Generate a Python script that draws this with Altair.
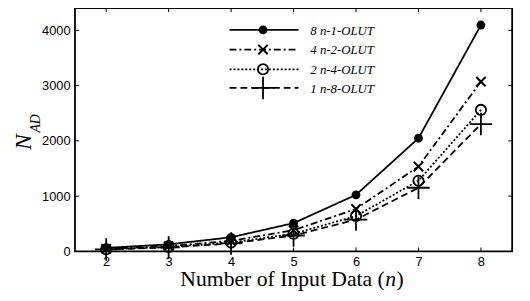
import altair as alt
import pandas as pd

n_values = [2, 3, 4, 5, 6, 7, 8]
series_names = ["8 n-1-OLUT", "4 n-2-OLUT", "2 n-4-OLUT", "1 n-8-OLUT"]
nad_8n1 = [64, 128, 256, 512, 1024, 2048, 4096]
nad_4n2 = [48, 96, 192, 384, 768, 1536, 3072]
nad_2n4 = [40, 80, 160, 320, 640, 1280, 2560]
nad_1n8 = [36, 72, 144, 288, 576, 1152, 2304]
x_ticks = [2, 3, 4, 5, 6, 7, 8]
y_ticks = [0, 1000, 2000, 3000, 4000]

series_values = [nad_8n1, nad_4n2, nad_2n4, nad_1n8]
dashes = [[1, 0], [7, 3, 2, 3], [2, 2], [7, 4]]
W, H = 444, 247

rows = []
for s, vals in zip(series_names, series_values):
    for n, v in zip(n_values, vals):
        rows.append({"series": s, "n": n, "v": v})
df = pd.DataFrame(rows)

xs = alt.Scale(domain=[1.5, 8.5], nice=False, zero=False)
ys = alt.Scale(domain=[0, 4400], nice=False)

X = alt.X("n:Q", scale=xs, axis=alt.Axis(values=x_ticks, format="d", title=None, grid=False, ticks=False,
                                        tickSize=0, domain=False, labelPadding=4, labelFontSize=13,
                                        labelFont="Liberation Sans", labelColor="black"))
Y = alt.Y("v:Q", scale=ys, axis=alt.Axis(values=y_ticks, format="d", title=None, grid=False, ticks=False,
                                        tickSize=0, domain=False, labelPadding=5, labelFontSize=13,
                                        labelFont="Liberation Sans", labelColor="black"))

base = alt.Chart(df)
lines = base.mark_line(color="black", strokeWidth=1.8).encode(
    x=X, y=Y,
    strokeDash=alt.StrokeDash("series:N", scale=alt.Scale(domain=series_names, range=dashes), legend=None),
    detail="series:N",
)

cross_path = "M-1,-1L1,1M-1,1L1,-1"
plus_path = "M-1,0L1,0M0,-1L0,1"
marker_specs = [
    dict(shape="circle", filled=True, size=80, strokeWidth=1),
    dict(shape=cross_path, filled=False, size=90, strokeWidth=2),
    dict(shape="circle", filled=False, size=110, strokeWidth=1.8),
    dict(shape=plus_path, filled=False, size=520, strokeWidth=1.8),
]

layers = [lines]
for s, spec in zip(series_names, marker_specs):
    layers.append(
        base.transform_filter(alt.datum.series == s).mark_point(
            color="black", opacity=1, **spec
        ).encode(x=X, y=Y)
    )

# inside ticks (box style)
xt = pd.DataFrame({"t": x_ticks})
yt = pd.DataFrame({"t": y_ticks})
tick_len = 4
layers.append(alt.Chart(xt).mark_rule(color="black", strokeWidth=1).encode(
    x=alt.X("t:Q", scale=xs), y=alt.value(H), y2=alt.value(H - tick_len)))
layers.append(alt.Chart(xt).mark_rule(color="black", strokeWidth=1).encode(
    x=alt.X("t:Q", scale=xs), y=alt.value(0), y2=alt.value(tick_len)))
layers.append(alt.Chart(yt).mark_rule(color="black", strokeWidth=1).encode(
    y=alt.Y("t:Q", scale=ys), x=alt.value(0), x2=alt.value(tick_len)))
layers.append(alt.Chart(yt).mark_rule(color="black", strokeWidth=1).encode(
    y=alt.Y("t:Q", scale=ys), x=alt.value(W), x2=alt.value(W - tick_len)))

# legend
leg_rows = [22, 42, 62, 81]
leg_df = pd.DataFrame({"series": series_names})
for s, d, spec, ry in zip(series_names, dashes, marker_specs, leg_rows):
    ld = alt.Chart(leg_df).transform_filter(alt.datum.series == s)
    layers.append(ld.mark_rule(color="black", strokeWidth=1.8, strokeDash=d).encode(
        x=alt.value(157), x2=alt.value(227), y=alt.value(ry)))
    layers.append(ld.mark_point(color="black", opacity=1, **spec).encode(
        x=alt.value(191), y=alt.value(ry)))
    layers.append(ld.mark_text(font="Liberation Serif", fontStyle="italic", fontSize=13, align="left",
                               baseline="middle", color="black").encode(
        x=alt.value(239), y=alt.value(ry + 1), text="series:N"))

# axis titles as text
title_df = pd.DataFrame({"a": ["Number of Input Data (", "n", ")", "N", "AD"]})
def tmark(txt, **kw):
    return alt.Chart(title_df).transform_filter(alt.datum.a == txt).mark_text(color="black", **kw)

layers.append(tmark("Number of Input Data (", font="Liberation Serif", fontSize=22, align="right",
                    baseline="alphabetic").encode(x=alt.value(314.7), y=alt.value(282), text="a:N"))
layers.append(tmark("n", font="Liberation Serif", fontSize=22, fontStyle="italic", align="left",
                    baseline="alphabetic").encode(x=alt.value(315.2), y=alt.value(282), text="a:N"))
layers.append(tmark(")", font="Liberation Serif", fontSize=22, align="left",
                    baseline="alphabetic").encode(x=alt.value(326.5), y=alt.value(282), text="a:N"))
layers.append(tmark("N", font="Liberation Serif", fontSize=24, fontStyle="italic", align="center",
                    baseline="middle", angle=270).encode(x=alt.value(-51.5), y=alt.value(136), text="a:N"))
layers.append(tmark("AD", font="Liberation Serif", fontSize=14, fontStyle="italic", align="center",
                    baseline="middle", angle=270).encode(x=alt.value(-40), y=alt.value(117), text="a:N"))

chart = alt.layer(*layers).properties(
    width=W, height=H,
    autosize=alt.AutoSizeParams(type="none"),
    padding={"left": 68, "top": -2, "right": 10, "bottom": 40},
    background="white",
).configure_view(stroke="black", strokeWidth=1.8)

chart.save("out.html", embed_options={"renderer": "svg", "actions": False})
